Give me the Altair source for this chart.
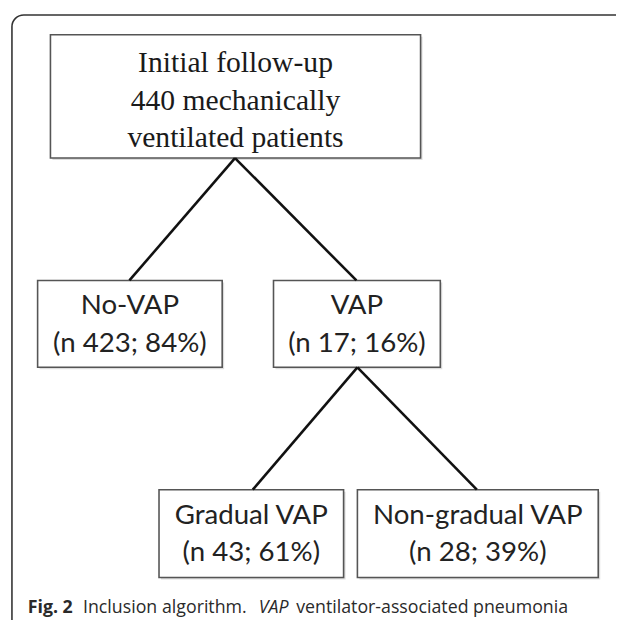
import altair as alt
import pandas as pd

# ---- content ----
top_lines = ["Initial follow-up", "440 mechanically", "ventilated patients"]
groups = ["No-VAP", "VAP", "Gradual VAP", "Non-gradual VAP"]
counts = [423, 17, 43, 28]
percents = [84, 16, 61, 39]
caption_parts = ["Fig. 2", "Inclusion", "algorithm.", "VAP", "ventilator-associated pneumonia"]

# ---- layout (pixel space of the page) ----
top_box = dict(x=51, x2=426, y=31, y2=156)
group_boxes = [
    dict(x=38, x2=225, y=280, y2=368),
    dict(x=277, x2=446, y=280, y2=368),
    dict(x=161, x2=348, y=492, y2=581),
    dict(x=362, x2=606, y=492, y2=581),
]
edges = [
    dict(x=238, y=156, x2=131, y2=280),
    dict(x=238, y=156, x2=361, y2=280),
    dict(x=362, y=368, x2=256, y2=492),
    dict(x=362, y=368, x2=483, y2=492),
]
top_line_y = [60, 98, 136]
caption_x = [28, 84, 164, 262, 300]
caption_y = 617
caption_style = [("bold", "normal"), ("normal", "normal"), ("normal", "normal"),
                 ("normal", "italic"), ("normal", "normal")]

W, H = 616, 612
X = alt.Scale(domain=[8, 8 + W], nice=False, zero=False)
Y = alt.Scale(domain=[8, 8 + H], nice=False, zero=False, reverse=True)

def xq(f):
    return alt.X(f, type="quantitative", scale=X, axis=None)

def yq(f):
    return alt.Y(f, type="quantitative", scale=Y, axis=None)

# boxes
boxes = pd.DataFrame([top_box] + group_boxes)
shadow = boxes.copy()
shadow[["x", "x2"]] += 2
shadow[["y", "y2"]] += 2

frame = alt.Chart(pd.DataFrame([dict(x=12, x2=700, y=11, y2=640)])).mark_rect(
    fill="white", stroke="#333", strokeWidth=1.6, cornerRadius=12
).encode(x=xq("x"), x2="x2", y=yq("y"), y2="y2")

shadow_layer = alt.Chart(shadow).mark_rect(fill="#d4d4d4", opacity=0.8).encode(
    x=xq("x"), x2="x2", y=yq("y"), y2="y2")

box_layer = alt.Chart(boxes).mark_rect(fill="white", stroke="#555", strokeWidth=1.6).encode(
    x=xq("x"), x2="x2", y=yq("y"), y2="y2")

edge_layer = alt.Chart(pd.DataFrame(edges)).mark_rule(color="#111", strokeWidth=2.6).encode(
    x=xq("x"), y=yq("y"), x2="x2", y2="y2")

# top text
tcx = (top_box["x"] + top_box["x2"]) / 2
top_df = pd.DataFrame({"t": top_lines, "x": [tcx] * 3, "y": top_line_y})
top_text = alt.Chart(top_df).mark_text(
    font="Liberation Serif", fontSize=30, color="#1a1a1a", baseline="middle", align="center"
).encode(x=xq("x"), y=yq("y"), text="t:N")

# group texts
rows = []
for g, n, p, b in zip(groups, counts, percents, group_boxes):
    cx = (b["x"] + b["x2"]) / 2
    cy = (b["y"] + b["y2"]) / 2
    rows.append(dict(t=g, x=cx, y=cy - 18))
    rows.append(dict(t=f"(n {n}; {p}%)", x=cx, y=cy + 20))
grp_text = alt.Chart(pd.DataFrame(rows)).mark_text(
    font="Lato", fontSize=28, color="#222", baseline="middle", align="center"
).encode(x=xq("x"), y=yq("y"), text="t:N")

# caption
cap_layers = []
for t, cx, (fw, fs) in zip(caption_parts, caption_x, caption_style):
    cap_layers.append(
        alt.Chart(pd.DataFrame({"t": [t], "x": [cx], "y": [caption_y]})).mark_text(
            font="Open Sans", fontSize=18, color="#2a2a2a", baseline="alphabetic",
            align="left", fontWeight=fw, fontStyle=fs
        ).encode(x=xq("x"), y=yq("y"), text="t:N")
    )

chart = alt.layer(frame, shadow_layer, box_layer, edge_layer, top_text, grp_text, *cap_layers).properties(
    width=W, height=H, padding=0, autosize=alt.AutoSizeParams(type="none")
).configure_view(stroke=None)

chart.save("out.html", embed_options={"renderer": "svg", "actions": False})
